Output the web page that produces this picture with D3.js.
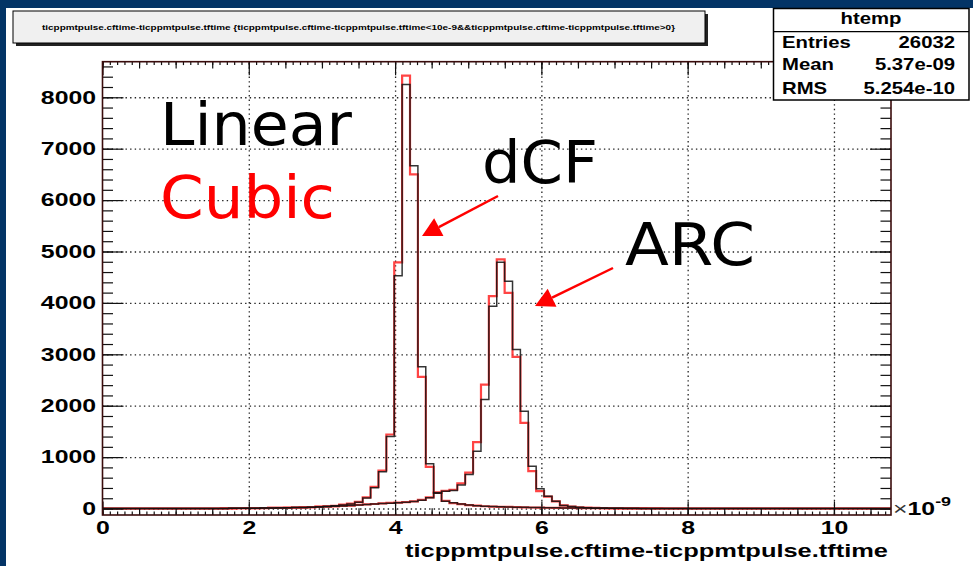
<!DOCTYPE html>
<html>
<head>
<meta charset="utf-8">
<script src="https://cdn.jsdelivr.net/npm/d3@7/dist/d3.min.js"></script>
<style>
  body { margin: 0; background: #ffffff; }
  svg { display: block; }
</style>
</head>
<body>
<svg id="chart" width="973" height="566"></svg>
<script>
// ---- histogram binning (x in units of 1e-9) ----
const binWidth = 0.1078;
const nBins = 100;
const xRange = [0, 10.78];
const yRange = [-126, 8692];

// dCF, linear interpolation (black)
const dcfLinear = [
  0,0,0,0,0,0,0,0,0,0,0,0,0,0,0,
  2,3,4,5,6,8,10,12,15,18,22,27,33,42,55,70,90,123,205,403,714,1400,4530,8250,6670,2760,
  870,300,142,110,88,68,55,46,40,35,30,27,24,21,18,16,14,12,10,9,8,7,6,5,4,3,3,2,2,1,
  0,0,0,0,0,0,0,0,0,0,0,0,0,0,0,0,0,0,0,0,0,0,0,0,0,0,0,0,0
];
// dCF, cubic interpolation (red)
const dcfCubic = [
  0,0,0,0,0,0,0,0,0,0,0,0,0,0,0,
  1,3,5,5,7,8,11,13,14,19,24,26,35,44,53,74,94,128,215,420,740,1440,4790,8420,6500,2560,
  811,310,150,105,84,66,57,44,38,33,31,26,23,20,19,15,13,12,10,8,8,6,6,4,4,3,2,2,1,1,
  0,0,0,0,0,0,0,0,0,0,0,0,0,0,0,0,0,0,0,0,0,0,0,0,0,0,0,0,0
];
// ARC, linear interpolation (black)
const arcLinear = [
  0,0,0,0,0,0,0,0,0,0,0,0,0,0,0,
  2,3,4,5,7,9,11,13,16,19,22,26,30,35,42,50,60,70,80,90,98,105,112,122,138,162,
  208,302,335,350,460,660,1115,2120,3936,4790,4422,3093,1893,823,383,239,142,60,40,26,17,12,8,5,3,2,1,1,0,0,
  0,0,0,0,0,0,0,0,0,0,0,0,0,0,0,0,0,0,0,0,0,0,0,0,0,0,0,0,0
];
// ARC, cubic interpolation (red)
const arcCubic = [
  0,0,0,0,0,0,0,0,0,0,0,0,0,0,0,
  1,3,5,6,6,10,12,12,17,20,21,27,31,36,40,52,58,72,82,88,100,108,115,125,140,168,
  215,310,345,365,490,700,1290,2410,4130,4845,4196,2951,1667,726,337,230,138,62,38,25,16,11,7,5,3,2,1,1,0,0,
  0,0,0,0,0,0,0,0,0,0,0,0,0,0,0,0,0,0,0,0,0,0,0,0,0,0,0,0,0
];

const xTickValues = [0, 2, 4, 6, 8, 10];
const xTickLabels = ["0", "2", "4", "6", "8", "10"];
const yTickValues = [0, 1000, 2000, 3000, 4000, 5000, 6000, 7000, 8000];
const yTickLabels = ["0", "1000", "2000", "3000", "4000", "5000", "6000", "7000", "8000"];

const statNames = ["Entries", "Mean", "RMS"];
const statValues = ["26032", "5.37e-09", "5.254e-10"];

const titleText = "ticppmtpulse.cftime-ticppmtpulse.tftime {ticppmtpulse.cftime-ticppmtpulse.tftime<10e-9&&ticppmtpulse.cftime-ticppmtpulse.tftime>0}";
const xTitle = "ticppmtpulse.cftime-ticppmtpulse.tftime";

// ---- layout ----
const frame = { left: 102.5, right: 891, top: 61.7, bottom: 515 };
const svg = d3.select("#chart");
const rootFont = "'Liberation Sans', Arial, Helvetica, sans-serif";
const textStretch = 1.38;

// slide background bands
const navy = "#033466";
svg.append("rect").attr("x", 0).attr("y", 0).attr("width", 973).attr("height", 566).attr("fill", "#ffffff");
svg.append("rect").attr("x", 0).attr("y", 0).attr("width", 973).attr("height", 8).attr("fill", navy);
svg.append("rect").attr("x", 0).attr("y", 0).attr("width", 6).attr("height", 566).attr("fill", navy);

const x = d3.scaleLinear().domain(xRange).range([frame.left, frame.right]);
const y = d3.scaleLinear().domain(yRange).range([frame.bottom, frame.top]);

// ---- grid (dotted, at primary ticks) ----
const grid = svg.append("g").attr("class", "grid");
grid.append("g")
  .attr("transform", `translate(${frame.left},0)`)
  .call(d3.axisRight(y).tickValues(yTickValues).tickSize(frame.right - frame.left).tickFormat(""))
  .call(g => g.select(".domain").remove());
grid.append("g")
  .attr("transform", `translate(0,${frame.bottom})`)
  .call(d3.axisTop(x).tickValues(xTickValues.filter(v => v > 0)).tickSize(frame.bottom - frame.top).tickFormat(""))
  .call(g => g.select(".domain").remove());
grid.selectAll("line")
  .attr("stroke", "#222")
  .attr("stroke-width", 1.3)
  .attr("stroke-dasharray", "1.4,3.2");

// ---- histograms ----
svg.append("clipPath").attr("id", "frameClip")
  .append("rect")
  .attr("x", frame.left).attr("y", frame.top)
  .attr("width", frame.right - frame.left).attr("height", frame.bottom - frame.top);

function stepPoints(vals) {
  const pts = [[0, 0]];
  vals.forEach((v, i) => {
    pts.push([i * binWidth, v]);
    pts.push([(i + 1) * binWidth, v]);
  });
  pts.push([vals.length * binWidth, 0]);
  return pts;
}
const stepLine = d3.line().x(d => x(d[0])).y(d => y(d[1]));

const hists = svg.append("g").attr("clip-path", "url(#frameClip)");
[dcfCubic, arcCubic].forEach(vals => {
  hists.append("path")
    .attr("d", stepLine(stepPoints(vals)))
    .attr("fill", "none")
    .attr("stroke", "#ff3030")
    .attr("stroke-width", 2.2)
    .attr("stroke-opacity", 0.9);
});
[dcfLinear, arcLinear].forEach(vals => {
  hists.append("path")
    .attr("d", stepLine(stepPoints(vals)))
    .attr("fill", "none")
    .attr("stroke", "#111")
    .attr("stroke-width", 1.5)
    .attr("stroke-opacity", 0.85);
});

// ---- frame and ticks on all four sides ----
const tickColor = "#111";
function tickAxis(gen, tx, ty, values, size) {
  svg.append("g")
    .attr("transform", `translate(${tx},${ty})`)
    .call(gen.tickValues(values).tickSize(size).tickFormat(""))
    .call(g => g.select(".domain").remove())
    .selectAll("line").attr("stroke", tickColor).attr("stroke-width", 1.2);
}
const yMinor = d3.range(0, 8601, 200);
const xSecondary = d3.range(0, 10.76, 0.5);
const xTertiary = d3.range(0, 10.75, 0.1);

// left / right (inward)
tickAxis(d3.axisRight(y), frame.left, 0, yTickValues, 21);
tickAxis(d3.axisRight(y), frame.left, 0, yMinor, 10.5);
tickAxis(d3.axisLeft(y), frame.right, 0, yTickValues, 21);
tickAxis(d3.axisLeft(y), frame.right, 0, yMinor, 10.5);
// bottom / top (inward)
tickAxis(d3.axisTop(x), 0, frame.bottom, xTickValues, 13.6);
tickAxis(d3.axisTop(x), 0, frame.bottom, xSecondary, 6.8);
tickAxis(d3.axisTop(x), 0, frame.bottom, xTertiary, 3.4);
tickAxis(d3.axisBottom(x), 0, frame.top, xTickValues, 13.6);
tickAxis(d3.axisBottom(x), 0, frame.top, xSecondary, 6.8);
tickAxis(d3.axisBottom(x), 0, frame.top, xTertiary, 3.4);

svg.append("rect")
  .attr("x", frame.left).attr("y", frame.top)
  .attr("width", frame.right - frame.left).attr("height", frame.bottom - frame.top)
  .attr("fill", "none").attr("stroke", "#3a0c0c").attr("stroke-width", 1.6);

// ---- tick labels ----
const yLab = svg.append("g")
  .attr("transform", `translate(${frame.left - 5},0)`)
  .call(d3.axisLeft(y).tickValues(yTickValues).tickSize(0).tickPadding(1)
        .tickFormat((d, i) => yTickLabels[i]));
yLab.select(".domain").remove();
yLab.selectAll("text")
  .attr("font-family", rootFont).attr("font-weight", "bold").attr("font-size", 18)
  .attr("fill", "#000")
  .attr("transform", `scale(${textStretch},1)`);

const xLab = svg.append("g")
  .attr("transform", `translate(0,${frame.bottom})`)
  .call(d3.axisBottom(x).tickValues(xTickValues).tickSize(0).tickPadding(6)
        .tickFormat((d, i) => xTickLabels[i]));
xLab.select(".domain").remove();
xLab.selectAll("text")
  .attr("font-family", rootFont).attr("font-weight", "bold").attr("font-size", 18)
  .attr("fill", "#000")
  .attr("transform", `scale(${textStretch},1)`);

// exponent label
const expo = svg.append("g").attr("transform", `translate(${frame.right + 2},515) scale(${textStretch},1)`);
const expoText = expo.append("text")
  .attr("font-family", rootFont).attr("font-weight", "bold").attr("font-size", 18).attr("fill", "#000");
expoText.append("tspan").attr("font-weight", "normal").attr("fill", "#333").text("\u00d7");
expoText.append("tspan").text("10");
expoText.append("tspan").attr("font-size", 13).attr("dy", -9).text("-9");

// x axis title
svg.append("text")
  .attr("x", 405).attr("y", 557)
  .attr("font-family", rootFont).attr("font-weight", "bold").attr("font-size", 19)
  .attr("textLength", 483).attr("lengthAdjust", "spacingAndGlyphs")
  .attr("fill", "#000")
  .text(xTitle);

// ---- title pave ----
svg.append("rect").attr("x", 16).attr("y", 14).attr("width", 692).attr("height", 32).attr("fill", "#222");
svg.append("rect").attr("x", 13).attr("y", 11).attr("width", 692).attr("height", 32)
  .attr("fill", "#f0f0f0").attr("stroke", "#000").attr("stroke-width", 1);
svg.append("text")
  .attr("x", 42).attr("y", 30)
  .attr("font-family", rootFont).attr("font-weight", "bold").attr("font-size", 7.5)
  .attr("textLength", 633).attr("lengthAdjust", "spacingAndGlyphs")
  .attr("fill", "#000")
  .text(titleText);

// ---- statistics box ----
const stats = svg.append("g");
stats.append("rect").attr("x", 773.5).attr("y", 8.5).attr("width", 195.5).attr("height", 91.5)
  .attr("fill", "#fff").attr("stroke", "#000").attr("stroke-width", 1.5);
stats.append("line").attr("x1", 773.5).attr("x2", 969).attr("y1", 31.7).attr("y2", 31.7)
  .attr("stroke", "#000").attr("stroke-width", 1.2);
stats.append("g").attr("transform", `translate(871,24) scale(1.27,1)`)
  .append("text").attr("text-anchor", "middle")
  .attr("font-family", rootFont).attr("font-weight", "bold").attr("font-size", 16).attr("fill", "#000")
  .text("htemp");
const rowY = [48.3, 70, 94];
statNames.forEach((name, i) => {
  stats.append("g").attr("transform", `translate(782,${rowY[i]}) scale(1.27,1)`)
    .append("text")
    .attr("font-family", rootFont).attr("font-weight", "bold").attr("font-size", 16).attr("fill", "#000")
    .text(name);
  stats.append("g").attr("transform", `translate(955,${rowY[i]}) scale(1.27,1)`)
    .append("text").attr("text-anchor", "end")
    .attr("font-family", rootFont).attr("font-weight", "bold").attr("font-size", 16).attr("fill", "#000")
    .text(statValues[i]);
});

// ---- annotations ----
const annFont = "'DejaVu Sans', Verdana, sans-serif";
const notes = [
  { text: "Linear", x: 160, y: 145, w: 192, color: "#000" },
  { text: "Cubic", x: 160, y: 218, w: 175, color: "#ff0000" },
  { text: "dCF", x: 482, y: 183, w: 116, color: "#000" },
  { text: "ARC", x: 625, y: 265, w: 130, color: "#000" }
];
notes.forEach(n => {
  svg.append("text")
    .attr("x", n.x).attr("y", n.y)
    .attr("font-family", annFont).attr("font-size", 58)
    .attr("textLength", n.w).attr("lengthAdjust", "spacingAndGlyphs")
    .attr("fill", n.color)
    .text(n.text);
});

// arrows pointing at the two peaks
function arrow(x1, y1, x2, y2) {
  const ang = Math.atan2(y2 - y1, x2 - x1);
  const len = 19, half = 10;
  const bx = x2 - len * Math.cos(ang), by = y2 - len * Math.sin(ang);
  svg.append("line").attr("x1", x1).attr("y1", y1).attr("x2", bx).attr("y2", by)
    .attr("stroke", "#ff0000").attr("stroke-width", 2.5);
  const p = [
    [x2, y2],
    [bx + half * Math.sin(ang), by - half * Math.cos(ang)],
    [bx - half * Math.sin(ang), by + half * Math.cos(ang)]
  ];
  svg.append("path").attr("d", d3.line()(p) + "Z").attr("fill", "#ff0000");
}
arrow(498, 196, 422, 236);
arrow(613, 268, 535, 306);
</script>
</body>
</html>
